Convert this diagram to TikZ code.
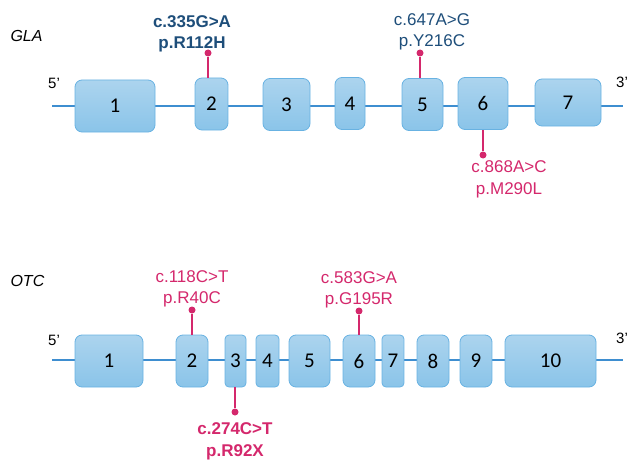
\documentclass[tikz,border=0pt]{standalone}
\usepackage{fontspec}
\setmainfont{Liberation Sans}
\newfontfamily\exonfont{Carlito}
\usetikzlibrary{positioning}

\definecolor{exontop}{RGB}{172,212,238}
\definecolor{exonbot}{RGB}{138,196,233}
\definecolor{exonedge}{RGB}{104,178,226}
\definecolor{geneline}{RGB}{62,142,208}
\definecolor{mutpink}{RGB}{212,40,108}
\definecolor{mutblue}{RGB}{30,78,122}

\begin{document}
\begin{tikzpicture}[
  x=1pt, y=-1pt,
  every node/.style = {font=\fontsize{17}{21.5}\selectfont},
  exon/.style     = {rectangle, rounded corners=7pt,
                     draw=exonedge, line width=0.8pt,
                     top color=exontop, bottom color=exonbot,
                     minimum height=52pt, inner sep=0pt,
                     font=\exonfont\fontsize{21}{21}\selectfont},
  pin/.style      = {circle, fill=mutpink, inner sep=0pt, minimum size=7pt},
  stick/.style    = {mutpink, line width=1.4pt},
  backbone/.style = {geneline, line width=1.4pt},
  mut/.style      = {align=center, inner sep=0pt, text=#1},
  genename/.style = {anchor=west, font=\itshape\fontsize{16}{16}\selectfont},
  prime/.style    = {font=\fontsize{15}{15}\selectfont},
]
\useasboundingbox (0,0) rectangle (627,460);

%% ══ GLA ══════════════════════════════════════════════════════════════════
\node[genename] (gla) at (7,36) {GLA};
\coordinate (gla5) at (52,106);
\coordinate (gla3) at (623,106);
\draw[backbone] (gla5) -- (gla3);
\node[prime] (gla5lab) at (54,83) {5’};
\node[prime] (gla3lab) at (622,82) {3’};

\node[exon, minimum width=80pt] (g1) at (115,106)   {1};
\node[exon, minimum width=33pt] (g2) at (211.5,104) {2};
\node[exon, minimum width=47pt] (g3) at (286.5,104.5) {3};
\node[exon, minimum width=30pt] (g4) at (350,103.5) {4};
\node[exon, minimum width=41pt] (g5) at (422.5,104.5) {5};
\node[exon, minimum width=50pt] (g6) at (483,103.5) {6};
\node[exon, minimum width=66pt, minimum height=47pt] (g7) at (568,102.5) {7};

% mutations
\node[pin] (gd2) at (208,53) {};
\node[pin] (gd5) at (420,53) {};
\node[pin] (gd6) at (483,155) {};
\draw[stick] (gd2) -- (gd2 |- g2.north);
\draw[stick] (gd5) -- (gd5 |- g5.north);
\draw[stick] (gd6) -- (gd6 |- g6.south);

\node[mut=mutblue, font=\bfseries\fontsize{17}{21.5}\selectfont,
      above=-3pt of gd2, xshift=-16pt] (gm2) {c.335G>A\\p.R112H};
\node[mut=mutblue, above=-1pt of gd5, xshift=12pt] (gm5) {c.647A>G\\p.Y216C};
\node[mut=mutpink, below=2pt of gd6, xshift=26pt] (gm6) {c.868A>C\\p.M290L};

%% ══ OTC ══════════════════════════════════════════════════════════════════
\node[genename] (otc) at (7,281) {OTC};
\coordinate (otc5) at (52,360);
\coordinate (otc3) at (623,360);
\draw[backbone] (otc5) -- (otc3);
\node[prime] (otc5lab) at (54,340) {5’};
\node[prime] (otc3lab) at (622,338) {3’};

\node[exon, minimum width=68pt] (o1)  at (109,361)   {1};
\node[exon, minimum width=32pt] (o2)  at (192,361)   {2};
\node[exon, minimum width=21pt, rounded corners=4pt] (o3) at (235.5,361) {3};
\node[exon, minimum width=23pt, rounded corners=4pt] (o4) at (267.5,361) {4};
\node[exon, minimum width=41pt] (o5)  at (309.5,361) {5};
\node[exon, minimum width=32pt] (o6)  at (359,361)   {6};
\node[exon, minimum width=22pt, rounded corners=4pt] (o7) at (393,361) {7};
\node[exon, minimum width=32pt] (o8)  at (433,361)   {8};
\node[exon, minimum width=32pt] (o9)  at (476,361)   {9};
\node[exon, minimum width=91pt] (o10) at (550.5,361) {10};

% mutations
\node[pin] (od2) at (192,310) {};
\node[pin] (od6) at (359,311) {};
\node[pin] (od3) at (235,412) {};
\draw[stick] (od2) -- (od2 |- o2.north);
\draw[stick] (od6) -- (od6 |- o6.north);
\draw[stick] (od3) -- (od3 |- o3.south);

\node[mut=mutpink, above=-1pt of od2] (om2) {c.118C>T\\p.R40C};
\node[mut=mutpink, above=-1pt of od6] (om6) {c.583G>A\\p.G195R};
\node[mut=mutpink, font=\bfseries\fontsize{17}{21.5}\selectfont,
      below=7pt of od3] (om3) {c.274C>T\\p.R92X};

\end{tikzpicture}
\end{document}
